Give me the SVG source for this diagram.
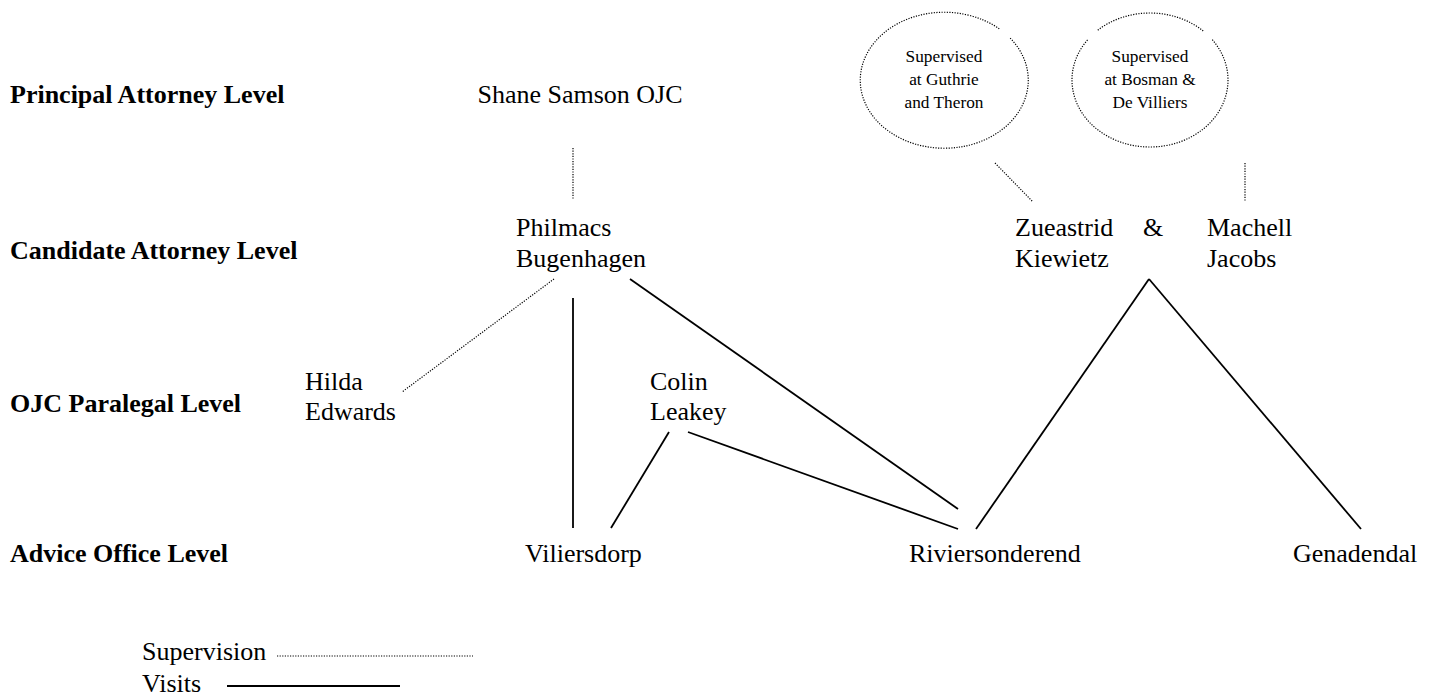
<svg xmlns="http://www.w3.org/2000/svg" width="1437" height="696" viewBox="0 0 1437 696" font-family="'Liberation Serif', 'Times New Roman', serif">
<style>
.lvl{font-weight:bold;font-size:26px}
.n{font-size:26px}
.s{font-size:17.3px}
.dot{stroke:#000;stroke-width:1.2;stroke-dasharray:1.2 1.4;fill:none}
.sol{stroke:#000;stroke-width:1.8;fill:none}
</style>
<rect width="1437" height="696" fill="#fff"/>
<g id="levels">
<text class="lvl" x="10" y="103">Principal Attorney Level</text>
<text class="lvl" x="10" y="259">Candidate Attorney Level</text>
<text class="lvl" x="10" y="412">OJC Paralegal Level</text>
<text class="lvl" x="10" y="562">Advice Office Level</text>
</g>
<g id="shane"><text class="n" x="580" y="103" text-anchor="middle">Shane Samson OJC</text></g>
<g id="philmacs"><text class="n" x="516" y="236">Philmacs</text><text class="n" x="516" y="267">Bugenhagen</text></g>
<g id="zueastrid"><text class="n" x="1015" y="236">Zueastrid</text><text class="n" x="1015" y="267">Kiewietz</text></g>
<g id="amp"><text class="n" x="1143" y="236">&amp;</text></g>
<g id="machell"><text class="n" x="1207" y="236">Machell</text><text class="n" x="1207" y="267">Jacobs</text></g>
<g id="hilda"><text class="n" x="305" y="390">Hilda</text><text class="n" x="305" y="420">Edwards</text></g>
<g id="colin"><text class="n" x="650" y="390">Colin</text><text class="n" x="650" y="420">Leakey</text></g>
<g id="viliersdorp"><text class="n" x="525" y="562">Viliersdorp</text></g>
<g id="riviersonderend"><text class="n" x="909" y="562">Riviersonderend</text></g>
<g id="genadendal"><text class="n" x="1293" y="562">Genadendal</text></g>
<g id="guthrie">
<path class="dot" d="M1010.2 38.1 A84 68 0 1 1 1000.2 29.5"/>
<text class="s" x="944" y="62" text-anchor="middle">Supervised</text>
<text class="s" x="944" y="85" text-anchor="middle">at Guthrie</text>
<text class="s" x="944" y="108" text-anchor="middle">and Theron</text>
</g>
<g id="bosman">
<path class="dot" d="M1097.8 30.2 A78 67 0 0 1 1203.2 31 M1212.3 39.7 A78 67 0 1 1 1088.5 38.8"/>
<text class="s" x="1150" y="62" text-anchor="middle">Supervised</text>
<text class="s" x="1150" y="85" text-anchor="middle">at Bosman &amp;</text>
<text class="s" x="1150" y="108" text-anchor="middle">De Villiers</text>
</g>
<g id="connectors">
<line class="dot" x1="573" y1="148" x2="573" y2="200"/>
<line class="dot" x1="554" y1="279" x2="402" y2="392"/>
<line class="dot" x1="995" y1="163" x2="1033" y2="202"/>
<line class="dot" x1="1245" y1="163" x2="1245" y2="202"/>
<line class="sol" x1="573" y1="298" x2="573" y2="528"/>
<line class="sol" x1="630" y1="279" x2="958" y2="509"/>
<line class="sol" x1="669" y1="432" x2="611" y2="528"/>
<line class="sol" x1="688" y1="432" x2="958" y2="529"/>
<line class="sol" x1="976" y1="529" x2="1149" y2="279"/>
<line class="sol" x1="1149" y1="279" x2="1361" y2="529"/>
</g>
<g id="legend">
<text class="n" x="142" y="660">Supervision</text>
<line class="dot" x1="277" y1="656" x2="473" y2="656"/>
<text class="n" x="142" y="692">Visits</text>
<line class="sol" x1="227" y1="686" x2="400" y2="686"/>
</g>
</svg>
